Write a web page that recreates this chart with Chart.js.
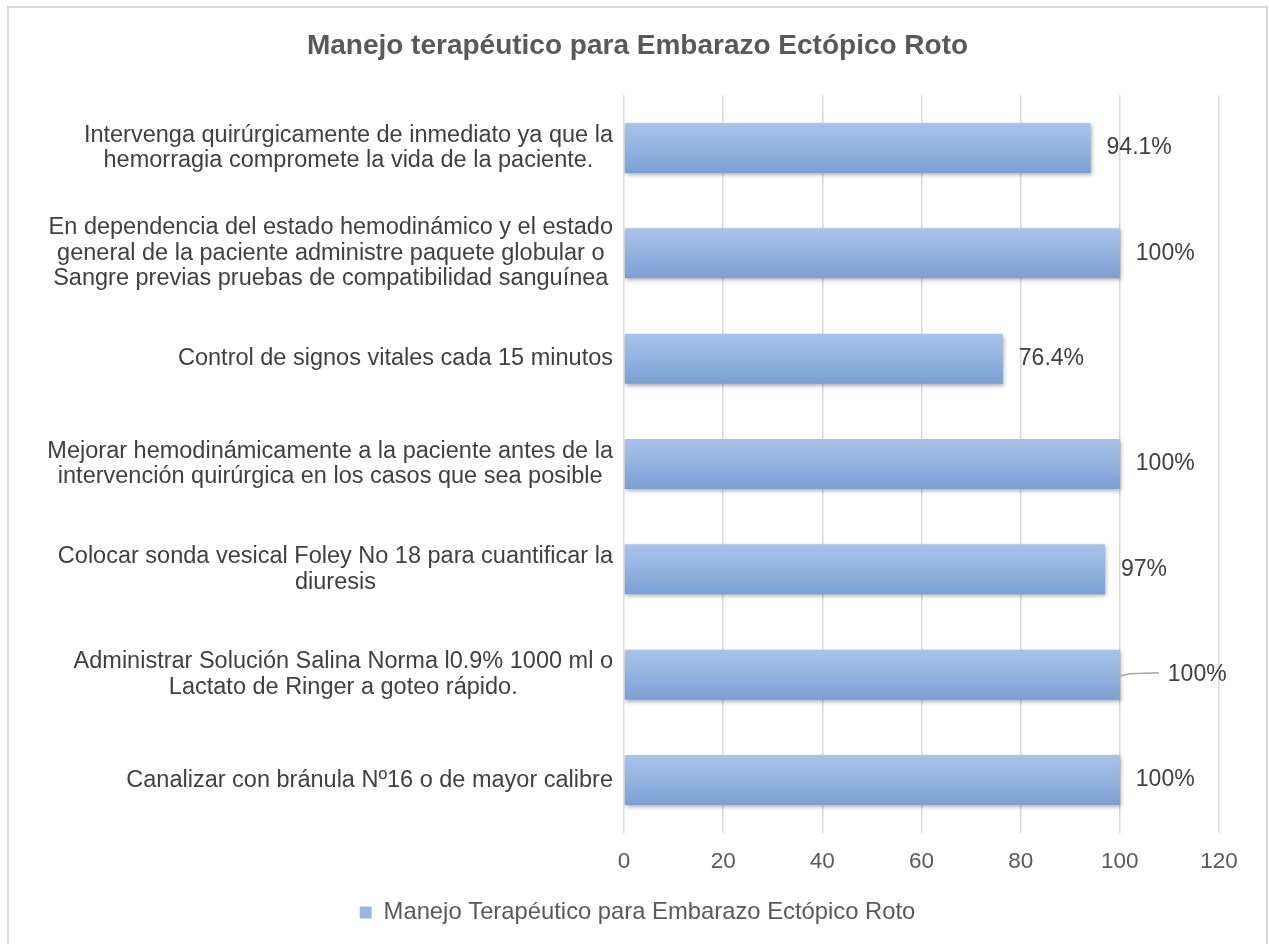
<!DOCTYPE html>
<html>
<head>
<meta charset="utf-8">
<script src="https://cdn.jsdelivr.net/npm/chart.js@4.4.1/dist/chart.umd.min.js"></script>
<style>
    html, body { margin: 0; padding: 0; background: #fff; overflow: hidden; }
    #wrap { position: relative; width: 1269px; height: 944px; }
</style>
</head>
<body>
<div id="wrap"><canvas id="chart"></canvas></div>
<script>
// categories, top to bottom (each one split into its lines)
const categories = [
    ['Intervenga quirúrgicamente de inmediato ya que la', 'hemorragia compromete la vida de la paciente.'],
    ['En dependencia del estado hemodinámico y el estado', 'general de la paciente administre paquete globular o', 'Sangre previas pruebas de compatibilidad sanguínea'],
    ['Control de signos vitales cada 15 minutos'],
    ['Mejorar hemodinámicamente a la paciente antes de la', 'intervención quirúrgica en los casos que sea posible'],
    ['Colocar sonda vesical Foley No 18 para cuantificar la', 'diuresis'],
    ['Administrar Solución Salina Norma l0.9% 1000 ml o', 'Lactato de Ringer a goteo rápido.'],
    ['Canalizar con bránula Nº16 o de mayor calibre']
];
const percentages = [94.1, 100, 76.4, 100, 97, 100, 100];
const seriesName = 'Manejo Terapéutico para Embarazo Ectópico Roto';
const chartTitle = 'Manejo terapéutico para Embarazo Ectópico Roto';
const xTicks = [0, 20, 40, 60, 80, 100, 120];

const FONT = '"Liberation Sans", Arial, sans-serif';

// outer frame like the Excel chart border
const framePlugin = {
    id: 'frame',
    beforeDraw(chart) {
        const ctx = chart.ctx;
        ctx.save();
        ctx.strokeStyle = '#d9d9d9';
        ctx.lineWidth = 2;
        ctx.strokeRect(8, 7, 1259, 980);
        ctx.restore();
    }
};

// soft shadow under bars
const shadowPlugin = {
    id: 'barShadow',
    beforeDatasetsDraw(chart) {
        const ctx = chart.ctx;
        ctx.save();
        ctx.shadowColor = 'rgba(0, 0, 0, 0.3)';
        ctx.shadowBlur = 4;
        ctx.shadowOffsetX = 1.5;
        ctx.shadowOffsetY = 2;
    },
    afterDatasetsDraw(chart) {
        chart.ctx.restore();
    }
};

// category labels: each block centered on itself, right edge near the axis
const categoryLabels = {
    id: 'categoryLabels',
    afterDraw(chart) {
        const ctx = chart.ctx;
        const yScale = chart.scales.y;
        const right = chart.chartArea.left - 11;
        const lineH = 25.5;
        ctx.save();
        ctx.font = '23.5px ' + FONT;
        ctx.fillStyle = '#404040';
        ctx.textAlign = 'center';
        ctx.textBaseline = 'middle';
        categories.forEach((lines, i) => {
            const yc = yScale.getPixelForValue(i);
            const w = Math.max(...lines.map(l => ctx.measureText(l).width));
            const xc = right - w / 2;
            const top = yc - (lines.length - 1) * lineH / 2;
            lines.forEach((l, k) => ctx.fillText(l, xc, top + k * lineH));
        });
        ctx.restore();
    }
};

// value labels at the bar ends
const valueLabels = {
    id: 'valueLabels',
    afterDatasetsDraw(chart) {
        const ctx = chart.ctx;
        const meta = chart.getDatasetMeta(0);
        const moved = { 5: 32 }; // the label Excel pushed out with a leader line
        ctx.save();
        ctx.font = '23px ' + FONT;
        ctx.fillStyle = '#404040';
        ctx.textAlign = 'left';
        ctx.textBaseline = 'middle';
        meta.data.forEach((bar, i) => {
            const extra = moved[i] || 0;
            const x = bar.x + 16 + extra;
            if (extra) {
                ctx.strokeStyle = '#a6a6a6';
                ctx.lineWidth = 1.5;
                ctx.beginPath();
                ctx.moveTo(bar.x + 1, bar.y + 1);
                ctx.lineTo(bar.x + 10, bar.y - 1);
                ctx.lineTo(x - 9, bar.y - 2);
                ctx.stroke();
            }
            ctx.fillText(percentages[i] + '%', x, bar.y);
        });
        ctx.restore();
    }
};

function barFill(context) {
    const chart = context.chart;
    if (!chart.chartArea || context.dataIndex === undefined) return '#95b4df';
    const y = chart.scales.y.getPixelForValue(context.dataIndex);
    const g = chart.ctx.createLinearGradient(0, y - 25, 0, y + 25);
    g.addColorStop(0, '#a9c4ea');
    g.addColorStop(0.5, '#93b2df');
    g.addColorStop(1, '#7a9fd4');
    return g;
}

new Chart(document.getElementById('chart'), {
    type: 'bar',
    data: {
        labels: categories,
        datasets: [{
            label: seriesName,
            data: percentages,
            backgroundColor: barFill,
            borderWidth: 0,
            barPercentage: 0.475,
            categoryPercentage: 1
        }]
    },
    options: {
        indexAxis: 'y',
        responsive: true,
        maintainAspectRatio: false,
        animation: false,
        layout: { padding: { left: 8, right: 2, top: 0, bottom: 9.5 } },
        plugins: {
            title: {
                display: true,
                text: chartTitle,
                color: '#595959',
                font: { family: FONT, size: 28, weight: 'bold' },
                padding: { top: 29.5, bottom: 32.2 }
            },
            legend: {
                display: true,
                position: 'bottom',
                labels: {
                    color: '#595959',
                    font: { family: FONT, size: 23.8 },
                    boxWidth: 12,
                    boxHeight: 12,
                    padding: 10,
                    generateLabels: () => [{
                        text: seriesName,
                        fillStyle: '#98b6e0',
                        strokeStyle: 'rgba(0,0,0,0)',
                        fontColor: '#595959',
                        lineWidth: 0,
                        datasetIndex: 0
                    }]
                }
            },
            tooltip: { enabled: false }
        },
        scales: {
            x: {
                min: xTicks[0],
                max: xTicks[xTicks.length - 1],
                afterBuildTicks(scale) { scale.ticks = xTicks.map(v => ({ value: v })); },
                grid: { color: '#d9d9d9', lineWidth: 1.5, drawTicks: false },
                border: { display: false },
                ticks: { color: '#595959', font: { family: FONT, size: 22.5 }, padding: 15.5 },
                afterFit(scale) { scale.height = 58; }
            },
            y: {
                grid: { display: false },
                border: { display: false },
                ticks: { display: false },
                afterFit(scale) { scale.width = 616; }
            },
            y2: {
                type: 'linear',
                axis: 'y',
                position: 'right',
                grid: { display: false },
                border: { display: false },
                ticks: { display: false },
                afterFit(scale) { scale.width = 48; }
            }
        }
    },
    plugins: [framePlugin, shadowPlugin, categoryLabels, valueLabels]
});
</script>
</body>
</html>
